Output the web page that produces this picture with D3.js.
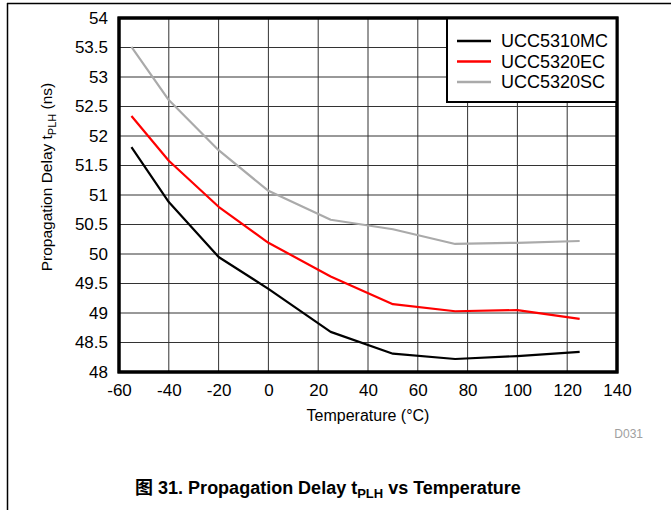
<!DOCTYPE html>
<html>
<head>
<meta charset="utf-8">
<script src="https://cdn.jsdelivr.net/npm/d3@7/dist/d3.min.js"></script>
<style>
  html, body { margin: 0; padding: 0; background: #fff; }
  svg { display: block; font-family: "Liberation Sans", Arial, sans-serif; }
</style>
</head>
<body>
<svg id="chart" width="671" height="510"></svg>
<script>
const temperatures = [-55, -40, -20, 0, 25, 50, 75, 100, 125];
const seriesNames = ["UCC5310MC", "UCC5320EC", "UCC5320SC"];
const ucc5310mc = [51.81, 50.88, 49.95, 49.41, 48.68, 48.31, 48.22, 48.27, 48.34];
const ucc5320ec = [52.34, 51.58, 50.80, 50.19, 49.62, 49.15, 49.03, 49.05, 48.90];
const ucc5320sc = [53.51, 52.61, 51.76, 51.07, 50.58, 50.42, 50.17, 50.19, 50.22];
const seriesColors = ["#000000", "#ff0000", "#aaaaaa"];
const xTicks = [-60, -40, -20, 0, 20, 40, 60, 80, 100, 120, 140];
const yTicks = [48, 48.5, 49, 49.5, 50, 50.5, 51, 51.5, 52, 52.5, 53, 53.5, 54];

const seriesValues = [ucc5310mc, ucc5320ec, ucc5320sc];

const svg = d3.select("#chart");
const L = 119, R = 617, T = 18, B = 372;

const x = d3.scaleLinear().domain([-60, 140]).range([L, R]);
const y = d3.scaleLinear().domain([48, 54]).range([B, T]);

// page frame lines
svg.append("line").attr("x1", 7).attr("x2", 671).attr("y1", 3.5).attr("y2", 3.5)
  .attr("stroke", "#000").attr("stroke-width", 1.5);
svg.append("line").attr("x1", 7.5).attr("x2", 7.5).attr("y1", 3).attr("y2", 510)
  .attr("stroke", "#000").attr("stroke-width", 1.5);

// grid
const grid = svg.append("g");
grid.selectAll("line.v").data(xTicks).join("line")
  .attr("x1", d => x(d)).attr("x2", d => x(d)).attr("y1", T).attr("y2", B)
  .attr("stroke", "#333").attr("stroke-width", 1);
grid.selectAll("line.h").data(yTicks).join("line")
  .attr("y1", d => y(d)).attr("y2", d => y(d)).attr("x1", L).attr("x2", R)
  .attr("stroke", "#333").attr("stroke-width", 1);

// axes (labels only)
const xAxis = d3.axisBottom(x).tickValues(xTicks).tickSize(0).tickPadding(12)
  .tickFormat(d => d3.format("d")(d).replace("−", "-"));
const gx = svg.append("g").attr("transform", `translate(0,${B})`).call(xAxis);
gx.select(".domain").remove();
gx.selectAll("text").attr("font-size", 17).attr("fill", "#000")
  .attr("font-family", "Liberation Sans, Arial, sans-serif");

const yAxis = d3.axisLeft(y).tickValues(yTicks).tickSize(0).tickPadding(11)
  .tickFormat(d => String(d));
const gy = svg.append("g").attr("transform", `translate(${L},0)`).call(yAxis);
gy.select(".domain").remove();
gy.selectAll("text").attr("font-size", 17).attr("fill", "#000")
  .attr("font-family", "Liberation Sans, Arial, sans-serif");

// lines
const line = d3.line().x((d, i) => x(temperatures[i])).y(d => y(d));
seriesValues.forEach((vals, k) => {
  svg.append("path").datum(vals).attr("d", line)
    .attr("fill", "none").attr("stroke", seriesColors[k]).attr("stroke-width", 2.2)
    .attr("stroke-linejoin", "round");
});

// plot frame
svg.append("rect").attr("x", L).attr("y", T).attr("width", R - L).attr("height", B - T)
  .attr("fill", "none").attr("stroke", "#000").attr("stroke-width", 3);

// legend
const lg = svg.append("g");
lg.append("rect").attr("x", 447).attr("y", T).attr("width", R - 447).attr("height", 102 - T)
  .attr("fill", "#fff").attr("stroke", "#000").attr("stroke-width", 2);
lg.append("rect").attr("x", L).attr("y", T).attr("width", R - L).attr("height", B - T)
  .attr("fill", "none").attr("stroke", "#000").attr("stroke-width", 3);
seriesNames.forEach((n, k) => {
  const yy = 41 + k * 20.5;
  lg.append("line").attr("x1", 457).attr("x2", 491).attr("y1", yy).attr("y2", yy)
    .attr("stroke", seriesColors[k]).attr("stroke-width", 2.5);
  lg.append("text").attr("x", 501).attr("y", yy).attr("dy", "0.36em")
    .attr("font-size", 18).text(n);
});

// axis titles
svg.append("text").attr("x", (L + R) / 2).attr("y", 421).attr("text-anchor", "middle")
  .attr("font-size", 16).text("Temperature (°C)");

const yt = svg.append("text").attr("transform", `translate(52,177) rotate(-90)`)
  .attr("text-anchor", "middle").attr("font-size", 15.5);
yt.append("tspan").text("Propagation Delay t");
yt.append("tspan").attr("font-size", 11).attr("dy", 4).text("PLH");
yt.append("tspan").attr("dy", -4).text(" (ns)");

svg.append("text").attr("x", 643).attr("y", 438).attr("text-anchor", "end")
  .attr("font-size", 12).attr("fill", "#a0a0a0").text("D031");

// caption
const cap = svg.append("text").attr("x", 328).attr("y", 494).attr("text-anchor", "middle")
  .attr("font-size", 18).attr("font-weight", "bold");
cap.append("tspan").attr("font-family", "Noto Sans CJK SC, sans-serif").text("图");
cap.append("tspan").text(" 31. Propagation Delay t");
cap.append("tspan").attr("font-size", 13).attr("dy", 4).text("PLH");
cap.append("tspan").attr("dy", -4).text(" vs Temperature");
</script>
</body>
</html>
